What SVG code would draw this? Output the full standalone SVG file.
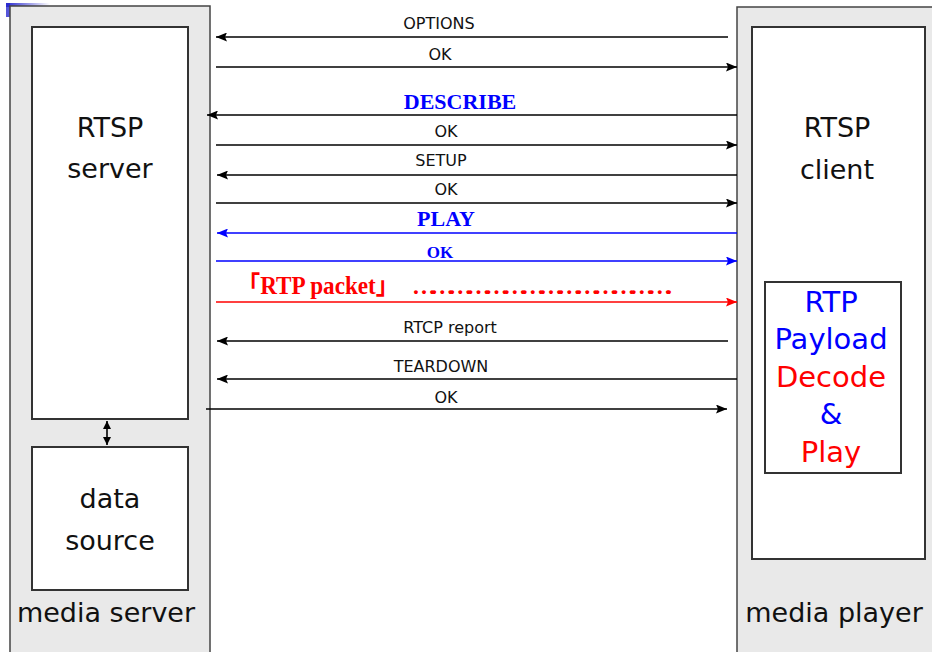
<svg xmlns="http://www.w3.org/2000/svg" width="932" height="652" viewBox="0 0 932 652">
<defs>
<marker id="ab" markerUnits="userSpaceOnUse" markerWidth="11" markerHeight="9" refX="11" refY="4.5" orient="auto"><path d="M0,0 L11,4.5 L0,9 L2,4.5 z" fill="#000"/></marker>
<marker id="au" markerUnits="userSpaceOnUse" markerWidth="11" markerHeight="9" refX="11" refY="4.5" orient="auto"><path d="M0,0 L11,4.5 L0,9 L2,4.5 z" fill="#0000ff"/></marker>
<marker id="ar" markerUnits="userSpaceOnUse" markerWidth="11" markerHeight="9" refX="11" refY="4.5" orient="auto"><path d="M0,0 L11,4.5 L0,9 L2,4.5 z" fill="#ff0000"/></marker>
<marker id="sm" markerUnits="userSpaceOnUse" markerWidth="8" markerHeight="8" refX="8" refY="4" orient="auto-start-reverse"><path d="M0,0 L8,4 L0,8 z" fill="#000"/></marker>
<linearGradient id="bl" x1="0" y1="0" x2="1" y2="0"><stop offset="0" stop-color="#2a2ad0"/><stop offset="1" stop-color="#2a2ad0" stop-opacity="0"/></linearGradient>
</defs>
<style>
.panel{fill:#e9e9e9;stroke:#444;stroke-width:1.5}
.box{fill:#fff;stroke:#333;stroke-width:2}
.big{font-family:"DejaVu Sans",Verdana,sans-serif;font-size:27px;text-anchor:middle;fill:#111}
.rtp{font-family:"DejaVu Sans",Verdana,sans-serif;font-size:29px;text-anchor:middle}
.lbl{font-family:"DejaVu Sans",Verdana,sans-serif;font-size:16px;text-anchor:middle;fill:#111}
.bs{font-family:"Liberation Serif","Times New Roman","Noto Sans CJK SC",serif;font-weight:bold;text-anchor:middle}
.ln{stroke:#000;stroke-width:1.6;fill:none;marker-end:url(#ab)}
.lu{stroke:#0000ff;stroke-width:1.6;fill:none;marker-end:url(#au)}
.lr{stroke:#ff0000;stroke-width:1.6;fill:none;marker-end:url(#ar)}
</style>
<rect x="0" y="0" width="932" height="652" fill="#fff"/>
<rect x="6" y="3" width="44" height="4" fill="url(#bl)"/>
<rect x="6" y="3" width="4" height="14" fill="#2a2ad0" opacity="0.8"/>
<g id="media-server">
<rect class="panel" x="10" y="6" width="200" height="660"/>
<text class="big" x="106" y="622">media server</text>
</g>
<g id="rtsp-server">
<rect class="box" x="32" y="27" width="156" height="392"/>
<text class="big" x="110" y="137">RTSP</text>
<text class="big" x="110" y="178">server</text>
</g>
<g id="data-source">
<rect class="box" x="32" y="447" width="156" height="143"/>
<text class="big" x="110" y="508">data</text>
<text class="big" x="110" y="550">source</text>
</g>
<g id="media-player">
<rect class="panel" x="737" y="7" width="196" height="660"/>
<text class="big" x="834" y="622">media player</text>
</g>
<g id="rtsp-client">
<rect class="box" x="752" y="27" width="173" height="532"/>
<text class="big" x="837" y="137">RTSP</text>
<text class="big" x="837" y="179">client</text>
</g>
<g id="rtp-decoder">
<rect class="box" x="765" y="282" width="136" height="191"/>
<text class="rtp" x="831" y="312" fill="#0000ff">RTP</text>
<text class="rtp" x="831" y="349" fill="#0000ff">Payload</text>
<text class="rtp" x="831" y="387" fill="#ff0000">Decode</text>
<text class="rtp" x="831" y="424" fill="#0000ff">&amp;</text>
<text class="rtp" x="831" y="462" fill="#ff0000">Play</text>
</g>
<g id="connectors">
<line x1="107" y1="421" x2="107" y2="445" stroke="#000" stroke-width="1.6" marker-start="url(#sm)" marker-end="url(#sm)"/>
<line class="ln" x1="728" y1="37" x2="216" y2="37"/>
<line class="ln" x1="216" y1="67" x2="737" y2="67"/>
<line class="ln" x1="737" y1="115" x2="207" y2="115"/>
<line class="ln" x1="216" y1="145" x2="737" y2="145"/>
<line class="ln" x1="737" y1="175" x2="217" y2="175"/>
<line class="ln" x1="216" y1="203" x2="737" y2="203"/>
<line class="lu" x1="737" y1="233" x2="217" y2="233"/>
<line class="lu" x1="216" y1="261" x2="737" y2="261"/>
<line class="lr" x1="216" y1="302" x2="737" y2="302"/>
<line class="ln" x1="728" y1="341" x2="217" y2="341"/>
<line class="ln" x1="737" y1="379" x2="217" y2="379"/>
<line class="ln" x1="206" y1="409" x2="727" y2="409"/>
<text class="lbl" x="439" y="29">OPTIONS</text>
<text class="lbl" x="440" y="60">OK</text>
<text class="bs" x="460" y="109" font-size="22" fill="#0000ff">DESCRIBE</text>
<text class="lbl" x="446" y="137">OK</text>
<text class="lbl" x="441" y="166">SETUP</text>
<text class="lbl" x="446" y="195">OK</text>
<text class="bs" x="446" y="226" font-size="22" fill="#0000ff">PLAY</text>
<text class="bs" x="440" y="258" font-size="17" fill="#0000ff">OK</text>
<text class="bs" x="318" y="294" font-size="25" fill="#ff0000" textLength="162" lengthAdjust="spacingAndGlyphs">「RTP packet」</text>
<text class="bs" x="542" y="294" font-size="24" fill="#ff0000" textLength="260" lengthAdjust="spacing">…………………………………….</text>
<text class="lbl" x="450" y="333">RTCP report</text>
<text class="lbl" x="441" y="372">TEARDOWN</text>
<text class="lbl" x="446" y="403">OK</text>
</g>
</svg>
